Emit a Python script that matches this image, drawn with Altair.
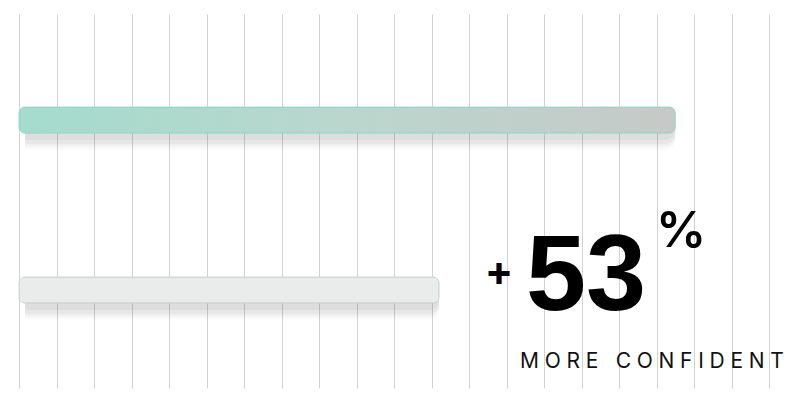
import altair as alt
import pandas as pd

groups = ["With", "Without"]
values = [17.5, 11.2]          # bar lengths in grid units
grid_ticks = list(range(0, 21))
headline = "53"
caption = "MORE CONFIDENT"

df = pd.DataFrame({"group": groups, "value": values})

W, H = 750, 374
xs = alt.Scale(domain=[0, 20], range=[0, W], nice=False, zero=True)
ys = alt.Scale(type="point", domain=groups, padding=0.6, align=0.52)

base = alt.Chart(df)

x_enc = alt.X("value:Q", scale=xs,
              axis=alt.Axis(values=grid_ticks, grid=True, gridColor="#d2d2d4", gridWidth=1,
                            labels=False, ticks=False, domain=False, title=None))
y_enc = alt.Y("group:N", scale=ys, axis=None)

# soft shadows
shadows = []
for off, sz, op in [(5, 30, 0.05), (8, 32, 0.05), (11, 30, 0.04), (14, 28, 0.03), (18, 24, 0.02)]:
    shadows.append(
        base.mark_bar(size=sz, cornerRadius=10, color="#555555", opacity=op, yOffset=off, xOffset=6)
        .encode(x=x_enc, y=y_enc)
    )

top_grad = alt.Gradient(gradient="linear", x1=0, x2=1, y1=0, y2=0,
                        stops=[alt.GradientStop(color="#a4dccd", offset=0),
                               alt.GradientStop(color="#bad6cd", offset=0.5),
                               alt.GradientStop(color="#c6c9c7", offset=1)])

top_bar = base.transform_filter(alt.datum.group == "With").mark_bar(
    size=26, cornerRadius=6, color=top_grad, stroke="#98d6c6", strokeWidth=1
).encode(x=x_enc, y=y_enc)

bottom_bar = base.transform_filter(alt.datum.group == "Without").mark_bar(
    size=26, cornerRadius=6, color="#eaeceb", stroke="#cfd2d1", strokeWidth=1
).encode(x=x_enc, y=y_enc)

spaced_caption = " \u2009\u2009\u2009".join("\u2009\u200a".join(list(w)) for w in caption.split(" "))

txt = alt.Chart(pd.DataFrame({"a": [0]}))
plus = txt.mark_text(text="+", font="Inter", fontSize=42, fontWeight="bold", color="#000000",
                     align="center", baseline="middle").encode(x=alt.value(480), y=alt.value(259))
big = txt.mark_text(text=headline, font="Liberation Sans", fontSize=108, fontWeight="bold", color="#000000",
                    align="left", baseline="alphabetic").encode(x=alt.value(507), y=alt.value(296))
pct = txt.mark_text(text="%", font="Inter", fontSize=50, fontWeight=600, color="#000000",
                    align="left", baseline="alphabetic").encode(x=alt.value(637), y=alt.value(233))
sub = txt.mark_text(text=spaced_caption, font="Inter", fontSize=21, fontWeight="normal", color="#111111",
                    align="left", baseline="alphabetic").encode(x=alt.value(501), y=alt.value(354))

chart = alt.layer(*shadows, top_bar, bottom_bar, plus, big, pct, sub).properties(
    width=W, height=H,
    padding={"left": 19, "top": 14, "right": 29, "bottom": 5},
    autosize=alt.AutoSizeParams(type="none"),
    background="#ffffff",
).configure_view(stroke=None)

chart.save("out.html", embed_options={"renderer": "svg", "actions": False})
